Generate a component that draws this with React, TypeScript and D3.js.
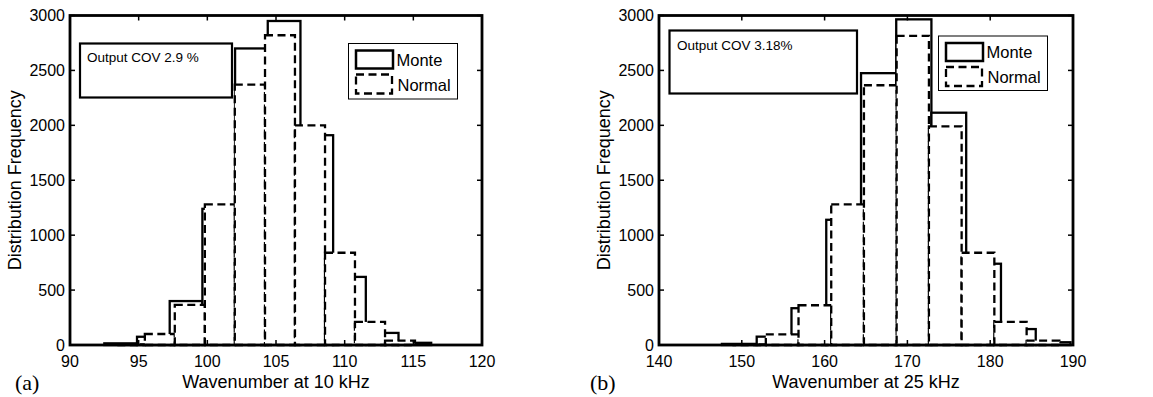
import React from "react";
import * as d3 from "d3";

// ---- Data ----
const leftXTicks = [90, 95, 100, 105, 110, 115, 120];
const rightXTicks = [140, 150, 160, 170, 180, 190];
const yTicks = [0, 500, 1000, 1500, 2000, 2500, 3000];

const leftMonteEdges = [92.5, 94.88, 97.26, 99.64, 102.02, 104.4, 106.78, 109.16, 111.54, 113.92, 116.3];
const leftMonteCounts = [15, 75, 400, 1240, 2700, 2950, 1910, 620, 110, 20];
const leftNormalEdges = [93.27, 95.45, 97.63, 99.82, 102.0, 104.2, 106.38, 108.57, 110.75, 112.94, 115.12];
const leftNormalCounts = [5, 100, 365, 1280, 2370, 2820, 2000, 840, 210, 40];

const rightMonteEdges = [147.6, 151.8, 156.0, 160.2, 164.4, 168.65, 172.9, 177.1, 181.3, 185.5, 189.7];
const rightMonteCounts = [10, 76, 335, 1140, 2475, 2965, 2115, 740, 145, 25];
const rightNormalEdges = [149.0, 152.9, 156.85, 160.8, 164.75, 168.7, 172.6, 176.55, 180.5, 184.4, 188.35];
const rightNormalCounts = [5, 97, 362, 1280, 2365, 2815, 1990, 840, 210, 40];

const seriesNames = ["Monte", "Normal"];
const leftCovText = "Output COV 2.9 %";
const rightCovText = "Output COV 3.18%";
const leftXLabel = "Wavenumber at 10 kHz";
const rightXLabel = "Wavenumber at 25 kHz";
const yLabel = "Distribution Frequency";

const SANS = "'Liberation Sans', Arial, Helvetica, sans-serif";
const SERIF = "'Liberation Serif', 'Times New Roman', serif";
const DASH = "8,4.5";

type PanelProps = {
  left: number;
  right: number;
  top: number;
  bottom: number;
  domain: [number, number];
  xTicks: number[];
  monteEdges: number[];
  monteCounts: number[];
  normalEdges: number[];
  normalCounts: number[];
  xLabel: string;
  covText: string;
  covBox: { x0: number; y0: number; x1: number; y1: number; tx: number; ty: number };
  legend: { x0: number; y0: number; x1: number; y1: number };
  tag: string;
  tagX: number;
  yLabelX: number;
};

function Panel(p: PanelProps) {
  const x = d3.scaleLinear().domain(p.domain).range([p.left, p.right]);
  const y = d3.scaleLinear().domain([0, 3000]).range([p.bottom, p.top]);
  const tickLen = 5;
  const lg = p.legend;
  return (
    <g>
      {/* Monte bars */}
      {p.monteCounts.map((c, i) => (
        <rect
          key={"m" + i}
          x={x(p.monteEdges[i])}
          y={y(c)}
          width={x(p.monteEdges[i + 1]) - x(p.monteEdges[i])}
          height={y(0) - y(c)}
          fill="#fff"
          stroke="#000"
          strokeWidth={2.3}
        />
      ))}
      {/* Normal bars */}
      {p.normalCounts.map((c, i) => (
        <rect
          key={"n" + i}
          x={x(p.normalEdges[i])}
          y={y(c)}
          width={x(p.normalEdges[i + 1]) - x(p.normalEdges[i])}
          height={y(0) - y(c)}
          fill="#fff"
          stroke="#000"
          strokeWidth={2.3}
          strokeDasharray={DASH}
        />
      ))}
      {/* ticks */}
      {p.xTicks.map((t) => (
        <g key={"xt" + t}>
          <line x1={x(t)} x2={x(t)} y1={p.bottom} y2={p.bottom - tickLen} stroke="#000" strokeWidth={1.5} />
          <line x1={x(t)} x2={x(t)} y1={p.top} y2={p.top + tickLen} stroke="#000" strokeWidth={1.5} />
          <text x={x(t)} y={p.bottom + 22} textAnchor="middle" fontFamily={SANS} fontSize={16}>
            {t}
          </text>
        </g>
      ))}
      {yTicks.map((t) => (
        <g key={"yt" + t}>
          <line x1={p.left} x2={p.left + tickLen} y1={y(t)} y2={y(t)} stroke="#000" strokeWidth={1.5} />
          <line x1={p.right} x2={p.right - tickLen} y1={y(t)} y2={y(t)} stroke="#000" strokeWidth={1.5} />
          <text x={p.left - 5} y={y(t)} dy="0.35em" textAnchor="end" fontFamily={SANS} fontSize={16}>
            {t}
          </text>
        </g>
      ))}
      {/* frame */}
      <rect
        x={p.left}
        y={p.top}
        width={p.right - p.left}
        height={p.bottom - p.top}
        fill="none"
        stroke="#000"
        strokeWidth={2.8}
      />
      {/* COV box */}
      <rect
        x={p.covBox.x0}
        y={p.covBox.y0}
        width={p.covBox.x1 - p.covBox.x0}
        height={p.covBox.y1 - p.covBox.y0}
        fill="#fff"
        stroke="#000"
        strokeWidth={2.2}
      />
      <text x={p.covBox.tx} y={p.covBox.ty} fontFamily={SANS} fontSize={13.5}>
        {p.covText}
      </text>
      {/* legend */}
      <rect x={lg.x0} y={lg.y0} width={lg.x1 - lg.x0} height={lg.y1 - lg.y0} fill="#fff" stroke="#000" strokeWidth={1} />
      <rect x={lg.x0 + 7.5} y={lg.y0 + 7} width={37} height={18} fill="none" stroke="#000" strokeWidth={2.5} />
      <rect
        x={lg.x0 + 7.5}
        y={lg.y0 + 31}
        width={36}
        height={19}
        fill="none"
        stroke="#000"
        strokeWidth={2.3}
        strokeDasharray={DASH}
      />
      <text x={lg.x0 + 48} y={lg.y0 + 22} fontFamily={SANS} fontSize={16.5}>
        {seriesNames[0]}
      </text>
      <text x={lg.x0 + 49} y={lg.y0 + 47} fontFamily={SANS} fontSize={16.5}>
        {seriesNames[1]}
      </text>
      {/* labels */}
      <text x={(p.left + p.right) / 2} y={p.bottom + 43} textAnchor="middle" fontFamily={SANS} fontSize={18}>
        {p.xLabel}
      </text>
      <text
        transform={`translate(${p.yLabelX},${(p.top + p.bottom) / 2}) rotate(-90)`}
        textAnchor="middle"
        fontFamily={SANS}
        fontSize={18}
      >
        {yLabel}
      </text>
      <text x={p.tagX} y={390} fontFamily={SERIF} fontSize={22}>
        {p.tag}
      </text>
    </g>
  );
}

export default function App() {
  return (
    <svg
      width={1153}
      height={397}
      viewBox="0 0 1153 397"
      style={{ position: "absolute", left: 0, top: 0, background: "#fff" }}
    >
      <rect x={0} y={0} width={1153} height={397} fill="#fff" />
      <Panel
        left={70}
        right={482}
        top={15.5}
        bottom={345}
        domain={[90, 120]}
        xTicks={leftXTicks}
        monteEdges={leftMonteEdges}
        monteCounts={leftMonteCounts}
        normalEdges={leftNormalEdges}
        normalCounts={leftNormalCounts}
        xLabel={leftXLabel}
        covText={leftCovText}
        covBox={{ x0: 80, y0: 43.5, x1: 232, y1: 97.5, tx: 87, ty: 62 }}
        legend={{ x0: 348.5, y0: 43.5, x1: 457.5, y1: 99 }}
        tag="(a)"
        tagX={15}
        yLabelX={21}
      />
      <Panel
        left={659}
        right={1073}
        top={15.5}
        bottom={345}
        domain={[140, 190]}
        xTicks={rightXTicks}
        monteEdges={rightMonteEdges}
        monteCounts={rightMonteCounts}
        normalEdges={rightNormalEdges}
        normalCounts={rightNormalCounts}
        xLabel={rightXLabel}
        covText={rightCovText}
        covBox={{ x0: 669.5, y0: 30.5, x1: 857, y1: 93.5, tx: 677, ty: 50 }}
        legend={{ x0: 938.5, y0: 36, x1: 1047.5, y1: 90.5 }}
        tag="(b)"
        tagX={590}
        yLabelX={610}
      />
    </svg>
  );
}
